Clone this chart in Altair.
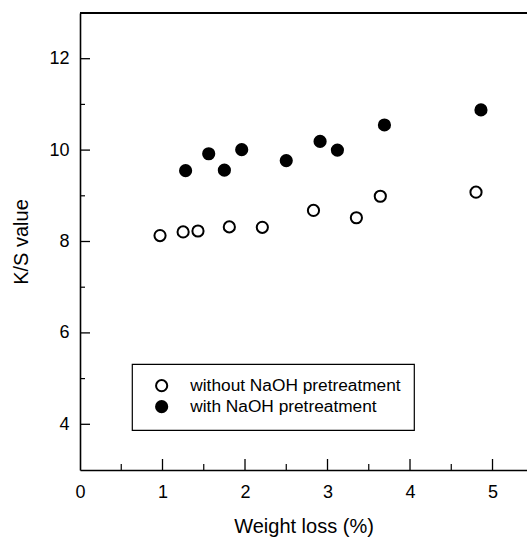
import altair as alt
import pandas as pd

# K/S value versus weight loss, with and without NaOH pretreatment
series_names = ["without NaOH pretreatment", "with NaOH pretreatment"]

without_x = [0.97, 1.25, 1.43, 1.81, 2.21, 2.83, 3.35, 3.64, 4.80]
without_y = [8.13, 8.21, 8.23, 8.32, 8.31, 8.68, 8.52, 8.99, 9.08]

with_x = [1.28, 1.56, 1.75, 1.96, 2.50, 2.91, 3.12, 3.69, 4.86]
with_y = [9.55, 9.92, 9.56, 10.01, 9.77, 10.19, 10.00, 10.55, 10.88]

# inward tick positions
y_major = [4, 6, 8, 10, 12]
y_minor = [5, 7, 9, 11]
x_major = [1, 2, 3, 4, 5]
x_minor = [0.5, 1.5, 2.5, 3.5, 4.5]

X_DOMAIN = [0, 5.418]
Y_DOMAIN = [3, 13]
W, H = 447, 457
FONT = "Liberation Sans"

points = pd.DataFrame(
    {
        "loss": without_x + with_x,
        "ks": without_y + with_y,
        "series": [series_names[0]] * len(without_x) + [series_names[1]] * len(with_x),
    }
)

xscale = alt.Scale(domain=X_DOMAIN, nice=False, zero=False)
yscale = alt.Scale(domain=Y_DOMAIN, nice=False, zero=False)

scatter = (
    alt.Chart(points)
    .mark_circle(stroke="black", strokeWidth=2, size=125, opacity=1)
    .encode(
        x=alt.X(
            "loss:Q",
            scale=xscale,
            title="Weight loss (%)",
            axis=alt.Axis(
                values=[0, 1, 2, 3, 4, 5],
                ticks=False,
                grid=False,
                labelFlush=False,
                labelPadding=13,
                titlePadding=15,
            ),
        ),
        y=alt.Y(
            "ks:Q",
            scale=yscale,
            title="K/S value",
            axis=alt.Axis(
                values=y_major,
                ticks=False,
                grid=False,
                labelFlush=False,
                labelPadding=11,
                titlePadding=17,
            ),
        ),
        fill=alt.Fill(
            "series:N",
            scale=alt.Scale(domain=series_names, range=["white", "black"]),
            sort=series_names,
            legend=alt.Legend(
                title=None,
                orient="none",
                legendX=52,
                legendY=351,
                strokeColor="black",
                fillColor="white",
                padding=13,
                symbolType="circle",
                symbolSize=125,
                symbolStrokeColor="black",
                symbolStrokeWidth=2,
                symbolOffset=8,
                labelOffset=20,
                labelFontSize=17.3,
                labelFont=FONT,
                labelColor="black",
                labelLimit=400,
                rowPadding=1,
            ),
        ),
    )
)


def tick_rules(values, channel, length, width):
    df = pd.DataFrame({"v": values})
    base = alt.Chart(df).mark_rule(color="black", strokeWidth=width)
    if channel == "y":
        return base.encode(
            y=alt.Y("v:Q", scale=yscale, axis=None),
            x=alt.value(0),
            x2=alt.value(length),
        )
    return base.encode(
        x=alt.X("v:Q", scale=xscale, axis=None),
        y=alt.value(H),
        y2=alt.value(H - length),
    )


top_border = (
    alt.Chart(pd.DataFrame({"v": [Y_DOMAIN[1]]}))
    .mark_rule(color="black", strokeWidth=2)
    .encode(y=alt.Y("v:Q", scale=yscale, axis=None))
)

chart = (
    alt.layer(
        scatter,
        top_border,
        tick_rules(y_major, "y", 10, 1.3),
        tick_rules(y_minor, "y", 5, 1.2),
        tick_rules(x_major, "x", 11, 1.3),
        tick_rules(x_minor, "x", 6, 1.2),
    )
    .resolve_axis(x="independent", y="independent")
    .properties(
        width=W,
        height=H,
        autosize=alt.AutoSizeParams(type="none"),
        padding={"left": 80, "top": 13, "right": 0, "bottom": 67},
    )
    .configure(font=FONT, background="white")
    .configure_view(stroke=None)
    .configure_legend(strokeWidth=1.2)
    .configure_axis(
        domainColor="black",
        domainWidth=1.6,
        labelFont=FONT,
        labelFontSize=18,
        labelColor="black",
        titleFont=FONT,
        titleFontSize=20,
        titleFontWeight="normal",
        titleColor="black",
    )
)

chart.save("out.html", embed_options={"renderer": "svg", "actions": False})
